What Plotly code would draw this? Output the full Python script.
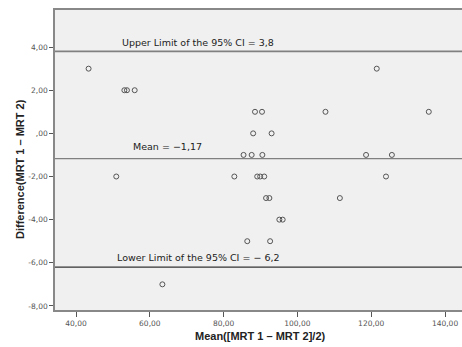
import plotly.graph_objects as go

# Bland-Altman data: mean of the two measurements (x) vs difference (y)
mean_vals = [43.4, 121.5,
             53.1, 53.8, 55.9,
             88.5, 90.4, 107.6, 135.6,
             88.0, 93.0,
             85.4, 87.6, 90.5, 118.6, 125.6,
             50.9, 82.9, 89.1, 89.9, 91.0, 124.0,
             91.5, 92.4, 111.5,
             95.1, 96.0,
             86.4, 92.6,
             63.4]
diff_vals = [3, 3,
             2, 2, 2,
             1, 1, 1, 1,
             0, 0,
             -1, -1, -1, -1, -1,
             -2, -2, -2, -2, -2, -2,
             -3, -3, -3,
             -4, -4,
             -5, -5,
             -7]

mean_diff = -1.17
upper_limit = 3.8
lower_limit = -6.2

x_ticks = [40, 60, 80, 100, 120, 140]
x_ticktext = ["40,00", "60,00", "80,00", "100,00", "120,00", "140,00"]
y_ticks = [4, 2, 0, -2, -4, -6, -8]
y_ticktext = ["4,00", "2,00", ",00", "-2,00", "-4,00", "-6,00", "-8,00"]

label_upper = "Upper Limit of the 95% CI = 3,8"
label_mean = "Mean = \u22121,17"
label_lower = "Lower Limit of the 95% CI = \u2212 6,2"
x_title = "Mean([MRT 1 \u2013 MRT 2]/2)"
y_title = "Difference(MRT 1 \u2013 MRT 2)"

fig = go.Figure()
fig.add_trace(go.Scatter(
    x=mean_vals, y=diff_vals, mode="markers",
    marker=dict(symbol="circle-open", size=5, color="#555555", line=dict(width=1, color="#555555")),
    showlegend=False, hoverinfo="skip"))

for yv, col, w in [(upper_limit, "#808080", 1.6), (mean_diff, "#808080", 1.4), (lower_limit, "#333333", 1.2)]:
    fig.add_shape(type="line", xref="paper", x0=0, x1=1, yref="y", y0=yv, y1=yv,
                  line=dict(color=col, width=w))

txt_font = dict(family="DejaVu Sans", size=9.5, color="#222222")
fig.add_annotation(x=51.9, y=upper_limit, text=label_upper, showarrow=False,
                   xanchor="left", yanchor="middle", yshift=9, font=txt_font)
fig.add_annotation(x=54.9, y=mean_diff, text=label_mean, showarrow=False,
                   xanchor="left", yanchor="middle", yshift=12.5, font=txt_font)
fig.add_annotation(x=50.6, y=lower_limit, text=label_lower, showarrow=False,
                   xanchor="left", yanchor="middle", yshift=9.5, font=txt_font)

title_font = dict(family="Liberation Sans", size=11, color="#222222")
fig.add_annotation(xref="paper", yref="paper", x=0.504, y=-0.087, text="<b>" + x_title + "</b>",
                   showarrow=False, xanchor="center", yanchor="middle", font=title_font)
fig.add_annotation(xref="paper", yref="paper", x=-0.086, y=0.47, text="<b>" + y_title + "</b>",
                   showarrow=False, xanchor="center", yanchor="middle", textangle=-90, font=title_font)

fig.update_xaxes(range=[34.3, 144.6], tickvals=x_ticks, ticktext=x_ticktext,
                 showgrid=False, zeroline=False, showline=True, mirror=True,
                 linecolor="#888888", linewidth=1.5, ticks="outside", ticklen=5,
                 tickcolor="#555555", tickfont=dict(family="DejaVu Sans", size=7.5, color="#555555"))
fig.update_yaxes(range=[-8.19, 5.72], tickvals=y_ticks, ticktext=y_ticktext,
                 showgrid=False, zeroline=False, showline=True, mirror=False,
                 linecolor="#888888", linewidth=1.5, ticks="outside", ticklen=4,
                 tickcolor="#555555", tickfont=dict(family="DejaVu Sans", size=7.5, color="#555555"))

fig.update_layout(width=462, height=347, margin=dict(l=55, r=0, t=10, b=37),
                  plot_bgcolor="#f0f0f0", paper_bgcolor="white")

fig.write_html("out.html", config={"displayModeBar": False},
               post_script="document.body.style.margin='0';document.body.style.overflow='hidden';")
